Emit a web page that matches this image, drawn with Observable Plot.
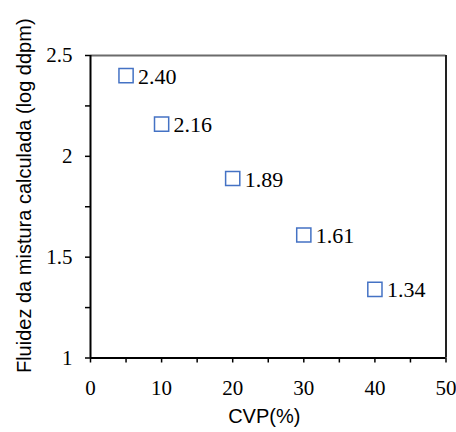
<!DOCTYPE html>
<html>
<head>
<meta charset="utf-8">
<script src="https://cdn.jsdelivr.net/npm/d3@7"></script>
<script src="https://cdn.jsdelivr.net/npm/@observablehq/plot@0.6"></script>
<style>
  html, body { margin: 0; padding: 0; background: #fff; }
</style>
</head>
<body>
<div id="chart"></div>
<script>
const cvp = [5, 10, 20, 30, 40];
const fluidez = [2.40, 2.16, 1.89, 1.61, 1.34];
const pointLabels = ["2.40", "2.16", "1.89", "1.61", "1.34"];
const xTicks = [0, 5, 10, 15, 20, 25, 30, 35, 40, 45, 50];
const xTickLabels = {0: "0", 10: "10", 20: "20", 30: "30", 40: "40", 50: "50"};
const yTicks = [1, 1.25, 1.5, 1.75, 2, 2.25, 2.5];
const yTickLabels = {1: "1", 1.5: "1.5", 2: "2", 2.5: "2.5"};
const xTitle = "CVP(%)";
const yTitle = "Fluidez da mistura calculada (log ddpm)";

const data = cvp.map((x, i) => ({x, y: fluidez[i], label: pointLabels[i]}));

const serif = "'Liberation Serif', 'Times New Roman', serif";
const sans = "'Liberation Sans', Arial, sans-serif";

const chart = Plot.plot({
  width: 456,
  height: 432,
  marginLeft: 90,
  marginRight: 10.5,
  marginTop: 55,
  marginBottom: 74.5,
  style: {background: "#fff", overflow: "visible"},
  x: {domain: [0, 50]},
  y: {domain: [1, 2.5]},
  marks: [
    Plot.axisX({
      ticks: xTicks, tickSize: 5, tickPadding: 17, strokeWidth: 1.5,
      tickFormat: d => xTickLabels[d] ?? "",
      fontSize: 21, fontFamily: serif, fill: "#000", label: null
    }),
    Plot.axisY({
      ticks: yTicks, tickSize: 5, tickPadding: 13, strokeWidth: 1.5,
      tickFormat: d => yTickLabels[d] ?? "",
      fontSize: 21, fontFamily: serif, fill: "#000", label: null
    }),
    Plot.ruleY([2.5], {stroke: "#6b6b6b", strokeWidth: 2}),
    Plot.ruleX([50], {stroke: "#222", strokeWidth: 2}),
    Plot.ruleX([0], {stroke: "#000", strokeWidth: 2}),
    Plot.ruleY([1], {stroke: "#000", strokeWidth: 2}),
    Plot.dot(data, {x: "x", y: "y", symbol: "square", r: 8, stroke: "#4472C4", strokeWidth: 1.5, fill: "none"}),
    Plot.text(data, {x: "x", y: "y", text: "label", textAnchor: "start", lineAnchor: "middle", dx: 12, dy: 1,
      fontSize: 22, fontFamily: serif, fill: "#000"}),
    Plot.text([xTitle], {frameAnchor: "bottom", text: d => d, dy: 59, dx: -4, textAnchor: "middle", lineAnchor: "middle",
      fontSize: 20, fontFamily: sans, fill: "#000"}),
    Plot.text([yTitle], {frameAnchor: "left", text: d => d, rotate: -90, dx: -66, dy: -11, textAnchor: "middle", lineAnchor: "middle",
      fontSize: 20, fontFamily: sans, fill: "#000"})
  ]
});
document.getElementById("chart").append(chart);
</script>
</body>
</html>
